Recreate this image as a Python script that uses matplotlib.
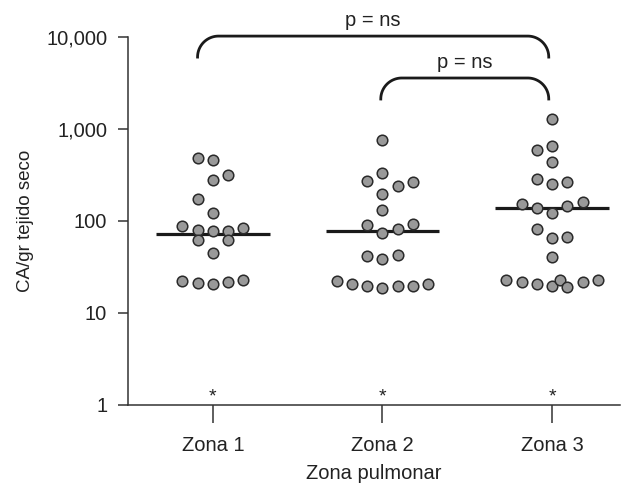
import matplotlib.pyplot as plt
import numpy as np

plt.rcParams['font.family'] = ['Liberation Sans', 'DejaVu Sans']

## 데이터
zonas = ['Zona 1', 'Zona 2', 'Zona 3']

zona1 = [488, 457, 316, 279, 172, 123, 89, 80, 78.5, 78.5, 84, 61.7, 61.7, 44.9,
         22.3, 21.4, 20.7, 21.5, 22.6]
zona2 = [759, 330, 272, 240, 263, 195, 132, 89.8, 74.6, 82.5, 92.8, 41.6, 38.6, 43,
         22.3, 20.5, 19.7, 18.6, 19.9, 19.5, 20.7]
zona3 = [1285, 591, 653, 441, 286, 253, 263, 154, 137, 122, 146, 161, 81.9, 64.9, 67,
         40.6, 22.6, 21.7, 20.7, 19.8, 22.6, 19.3, 21.5, 22.6]

# columna de cada punto dentro del enjambre
col1 = [-1, 0, 1, 0, -1, 0, -2, -1, 0, 1, 2, -1, 1, 0, -2, -1, 0, 1, 2]
col2 = [0, 0, -1, 1, 2, 0, 0, -1, 0, 1, 2, -1, 0, 1, -3, -2, -1, 0, 1, 2, 3]
col3 = [0, -1, 0, 0, -1, 0, 1, -2, -1, 0, 1, 2, -1, 0, 1, 0, -3, -2, -1, 0, 0.5, 1, 2, 3]

medianas = [71.7, 78.5, 138]

## 그래프
fig = plt.figure(figsize=(6.31, 4.84), dpi=100)
ax = fig.add_axes([128/631, 1-405/484, 492/631, 368/484])

step = 0.09
for i, (vals, cols) in enumerate(zip([zona1, zona2, zona3], [col1, col2, col3])):
    xs = i + 1 + np.array(cols) * step
    ax.scatter(xs, vals, s=58, facecolor='#999999', edgecolor='#2a2a2a',
               linewidth=1.1, zorder=3, clip_on=False)
    ax.plot([i + 1 - 0.335, i + 1 + 0.335], [medianas[i], medianas[i]],
            color='#1a1a1a', lw=2.3, zorder=2, solid_capstyle='butt')
    ax.annotate('*', (i + 1, 1), xytext=(0, 0), textcoords='offset points',
                ha='center', va='bottom', fontsize=14, color='#222222')

ax.set_yscale('log')
ax.set_ylim(1, 10000)
ax.set_xlim(0.5, 3.4)
ax.set_yticks([1, 10, 100, 1000, 10000])
ax.set_yticklabels(['1', '10', '100', '1,000', '10,000'])
ax.minorticks_off()
ax.set_xticks([1, 2, 3])
ax.set_xticklabels(zonas)

for s in ['top', 'right']:
    ax.spines[s].set_visible(False)
for s in ['left', 'bottom']:
    ax.spines[s].set_color('#333333')
    ax.spines[s].set_linewidth(1.1)
ax.tick_params(axis='y', length=7.5, width=1.1, color='#333333', labelsize=14.5,
               labelcolor='#222222', pad=7.5)
ax.tick_params(axis='x', length=13, width=1.1, color='#333333', labelsize=14.5,
               labelcolor='#222222', pad=9.5)

ax.set_ylabel('CA/gr tejido seco', fontsize=13.5, color='#222222', labelpad=9)
ax.set_xlabel('Zona pulmonar', fontsize=14.5, color='#222222', labelpad=6.5)


## llaves de significancia
def llave(x0, x1, ytop, texto, r_px=21):
    w_px = 492.0
    h_px = 368.0
    inv = ax.transAxes.inverted()
    a0 = inv.transform(ax.transData.transform((x0, ytop)))
    a1 = inv.transform(ax.transData.transform((x1, ytop)))
    rx = r_px / w_px
    ry = r_px / h_px
    yt = a0[1]
    t = np.linspace(0, np.pi / 2, 30)
    # esquina izquierda
    lx = a0[0] + rx - rx * np.cos(t)
    ly = yt - ry + ry * np.sin(t)
    # esquina derecha
    rxs = a1[0] - rx + rx * np.cos(t[::-1])
    rys = yt - ry + ry * np.sin(t[::-1])
    px = np.concatenate([lx, rxs])
    py = np.concatenate([ly, rys])
    ax.plot(px, py, transform=ax.transAxes, color='#1a1a1a', lw=2.0, clip_on=False)
    ax.text((a0[0] + a1[0]) / 2, yt + 10 / h_px, texto, transform=ax.transAxes,
            ha='center', va='baseline', fontsize=14.5, color='#222222')


llave(0.91, 2.98, 10230, 'p = ns')
llave(1.99, 2.98, 3583, 'p = ns')

plt.savefig('out.png', dpi=100)
